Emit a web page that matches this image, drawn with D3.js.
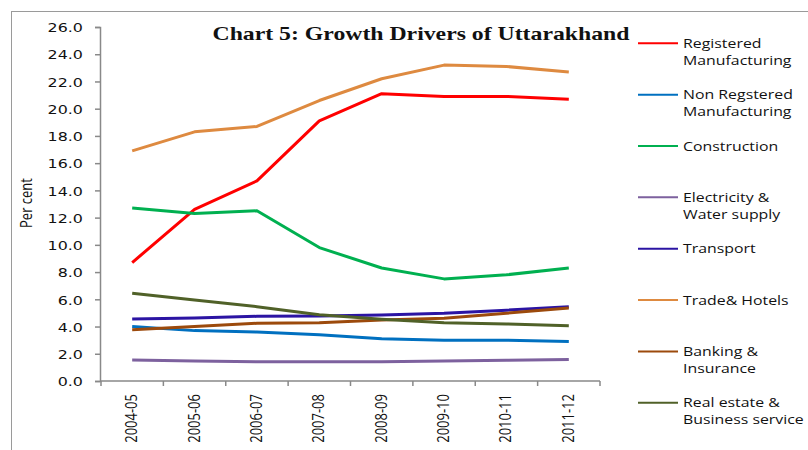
<!DOCTYPE html>
<html><head><meta charset="utf-8">
<script src="https://cdn.jsdelivr.net/npm/d3@7/dist/d3.min.js"></script>
<style>html,body{margin:0;padding:0;background:#fff;}svg{display:block;}</style>
</head><body>
<script>
const categories = ["2004-05","2005-06","2006-07","2007-08","2008-09","2009-10","2010-11","2011-12"];
const yTicks = [0,2,4,6,8,10,12,14,16,18,20,22,24,26];
const seriesNames = ["Registered\nManufacturing","Non Regstered\nManufacturing","Construction","Electricity &\nWater supply","Transport","Trade& Hotels","Banking &\nInsurance","Real estate &\nBusiness service"];
const seriesColors = ["#FF0000","#0070C0","#00B050","#7D619E","#2B14A3","#DE8A40","#9C4A0C","#506128"];
const regMfg      = [8.7, 12.6, 14.7, 19.1, 21.1, 20.9, 20.9, 20.7];
const nonRegMfg   = [4.0, 3.7, 3.6, 3.4, 3.1, 3.0, 3.0, 2.9];
const construction= [12.7, 12.3, 12.5, 9.8, 8.3, 7.5, 7.8, 8.3];
const electricity = [1.55, 1.47, 1.42, 1.41, 1.42, 1.46, 1.52, 1.57];
const transport   = [4.55, 4.62, 4.75, 4.77, 4.85, 4.97, 5.2, 5.45];
const trade       = [16.9, 18.3, 18.7, 20.6, 22.2, 23.2, 23.1, 22.7];
const banking     = [3.77, 4.0, 4.24, 4.28, 4.48, 4.6, 4.98, 5.36];
const realEstate  = [6.45, 5.95, 5.46, 4.87, 4.53, 4.28, 4.19, 4.06];
const seriesValues = [regMfg, nonRegMfg, construction, electricity, transport, trade, banking, realEstate];

const W = 808, H = 450, SX = 1.22;
const svg = d3.select("body").append("svg").attr("width", W).attr("height", H);

// outer frame
svg.append("rect").attr("x", 11.5).attr("y", 11.5).attr("width", 900).attr("height", 600)
  .attr("fill", "none").attr("stroke", "#9a9a9a").attr("stroke-width", 1);

const x = d3.scaleBand().domain(categories).range([101, 600]);
const y = d3.scaleLinear().domain([0, 26]).range([381, 27]);

// Y axis
const gy = svg.append("g").attr("transform", "translate(100,0)")
  .call(d3.axisLeft(y).tickValues(yTicks).tickFormat(d3.format(".1f")).tickSize(5).tickSizeOuter(5));
gy.select(".domain").attr("stroke", "#898989").attr("stroke-width", 1.5);
gy.selectAll(".tick line").attr("stroke", "#898989").attr("stroke-width", 1.5);
gy.selectAll(".tick text").attr("x", -14).attr("dy", "0.36em")
  .attr("transform", `scale(${SX},1)`)
  .style("font-family", "'DejaVu Sans', Verdana, sans-serif").style("font-size", "13px").attr("fill", "#111");

// X axis: ticks at band boundaries
const gx = svg.append("g").attr("transform", "translate(0,381)");
gx.append("line").attr("x1", x.range()[0] - 1).attr("x2", x.range()[1]).attr("y1", 0).attr("y2", 0)
  .attr("stroke", "#898989").attr("stroke-width", 1.5);
const bounds = categories.map(c => x(c)).concat([x.range()[1]]);
gx.selectAll("line.tk").data(bounds).join("line").attr("class", "tk")
  .attr("x1", d => d).attr("x2", d => d).attr("y1", 0).attr("y2", 5)
  .attr("stroke", "#898989").attr("stroke-width", 1.5);
gx.selectAll("text").data(categories).join("text")
  .attr("transform", d => `translate(${x(d) + x.bandwidth()/2 + 5},${13}) scale(${SX},1) rotate(-90)`)
  .attr("text-anchor", "end")
  .style("font-family", "'Open Sans', sans-serif").style("font-size", "13px").attr("fill", "#111")
  .text(d => d);

// Y title
svg.append("text").attr("transform", `translate(32,203) scale(${SX},1) rotate(-90)`)
  .attr("text-anchor", "middle")
  .style("font-family", "'Open Sans', sans-serif").style("font-size", "13px").attr("fill", "#111")
  .text("Per cent");

// Title
svg.append("text").attr("transform", `translate(421,40) scale(1.25,1)`)
  .attr("text-anchor", "middle")
  .style("font-family", "'Liberation Serif', 'Times New Roman', serif").style("font-size", "19px")
  .style("font-weight", "bold").attr("fill", "#111")
  .text("Chart 5: Growth Drivers of Uttarakhand");

// Lines
const line = d3.line().x((d, i) => x(categories[i]) + x.bandwidth()/2).y(d => y(d));
svg.append("g").selectAll("path").data(seriesValues).join("path")
  .attr("d", d => line(d)).attr("fill", "none")
  .attr("stroke", (d, i) => seriesColors[i]).attr("stroke-width", 3)
  .attr("stroke-linejoin", "round");

// Legend
const leg = svg.append("g");
seriesNames.forEach((name, i) => {
  const ly = 43.3 + i * 51.35;
  leg.append("line").attr("x1", 638).attr("x2", 678).attr("y1", ly).attr("y2", ly)
    .attr("stroke", seriesColors[i]).attr("stroke-width", 2);
  const t = leg.append("text").attr("transform", `translate(683,${ly + 4.6}) scale(${SX},1)`)
    .style("font-family", "'Open Sans', sans-serif").style("font-size", "13px").attr("fill", "#111");
  name.split("\n").forEach((s, j) => {
    t.append("tspan").attr("x", 0).attr("dy", j === 0 ? 0 : 16.7).text(s);
  });
});
</script>
</body></html>
